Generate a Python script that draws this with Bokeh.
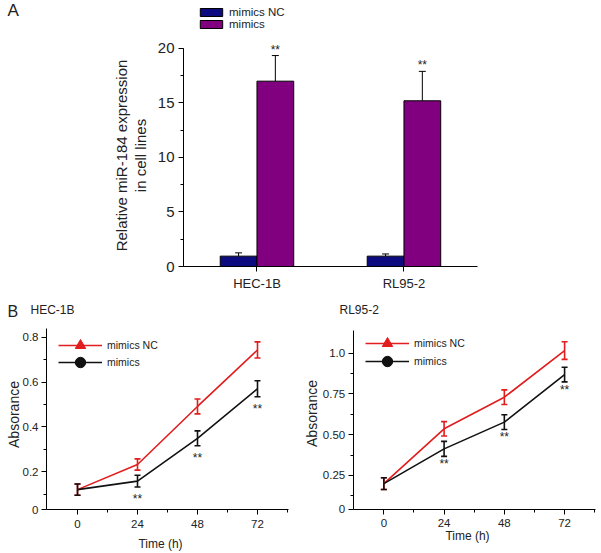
import math
from bokeh.plotting import figure
from bokeh.models import (ColumnDataSource, Range1d, Whisker, TeeHead, Legend,
                          LegendItem, Label, FixedTicker, SingleIntervalTicker)
from bokeh.transform import dodge
from bokeh.layouts import column, row
from bokeh.embed import file_html
from bokeh.resources import INLINE
from bokeh.core.properties import value

FONT = "Liberation Sans"

# ---------------- Panel A data ----------------
cells = ["HEC-1B", "RL95-2"]
nc_expr = [0.95, 0.95]
nc_expr_err = [0.3, 0.2]
mim_expr = [17.0, 15.2]
mim_expr_err = [2.35, 2.7]
sig_A = ["**", "**"]

# ---------------- Panel B data ----------------
hours = [0, 24, 48, 72]
hec_nc = [0.12, 0.232, 0.491, 0.743]
hec_nc_err = [0.025, 0.025, 0.033, 0.036]
hec_mim = [0.12, 0.158, 0.349, 0.570]
hec_mim_err = [0.025, 0.026, 0.033, 0.036]
rl_nc = [0.20, 0.536, 0.730, 1.016]
rl_nc_err = [0.036, 0.044, 0.045, 0.054]
rl_mim = [0.20, 0.413, 0.577, 0.869]
rl_mim_err = [0.036, 0.046, 0.045, 0.045]
sig_B = ["", "**", "**", "**"]

hec_y_ticks = [0.031, 0.2, 0.4, 0.6, 0.8]
hec_y_labels = ["0", "0.2", "0.4", "0.6", "0.8"]
hec_y_minor = [0.1, 0.3, 0.5, 0.7]
rl_y_ticks = [0.041, 0.25, 0.5, 0.75, 1.0]
rl_y_labels = ["0", "0.25", "0.50", "0.75", "1.0"]
rl_y_minor = [0.125, 0.375, 0.625, 0.875]
x_ticks = [0, 24, 48, 72]
x_minor = [12, 36, 60, 84]

NAVY = "#0c0c80"
PURPLE = "#800080"
RED = "#e11d1d"
BLACK = "#111111"
TXT = "#222222"


def new_fig(w, h, xr, yr):
    p = figure(width=w, height=h, x_range=Range1d(*xr), y_range=Range1d(*yr),
               output_backend="svg", toolbar_location=None,
               min_border=0, min_border_left=0, min_border_right=0,
               min_border_top=0, min_border_bottom=0)
    p.xgrid.visible = False
    p.ygrid.visible = False
    p.outline_line_color = None
    p.background_fill_color = "white"
    return p


def style_axis(ax, tick_size, standoff):
    ax.axis_line_color = "black"
    ax.axis_line_width = 1
    ax.major_tick_line_color = "black"
    ax.minor_tick_line_color = "black"
    ax.major_tick_in = 0
    ax.major_tick_out = 5
    ax.minor_tick_in = 0
    ax.minor_tick_out = 3
    ax.major_label_text_font = FONT
    ax.major_label_text_color = TXT
    ax.major_label_text_font_size = tick_size
    ax.major_label_standoff = standoff


class Placer:
    """Places texts by page pixel coordinates on a figure whose frame fills its canvas."""
    def __init__(self, p, ox, oy, h):
        self.p, self.ox, self.oy, self.h = p, ox, oy, h

    def text(self, px, py, text, size, angle=0.0, align="left", baseline="middle"):
        self.p.add_layout(Label(x=px - self.ox, y=self.oy + self.h - py,
                                x_units="screen", y_units="screen", text=text,
                                text_font=FONT, text_font_size=size, text_color=TXT,
                                angle=angle, text_align=align, text_baseline=baseline))

    def legend(self, renderers, label, px, py_bottom, glyph_w, glyph_h, font_size):
        self.p.add_layout(Legend(
            items=[LegendItem(label=label, renderers=renderers)],
            location=(px - self.ox, self.oy + self.h - py_bottom), padding=0, margin=0,
            spacing=0, glyph_width=glyph_w, glyph_height=glyph_h, label_height=10,
            label_standoff=5, label_text_font=FONT, label_text_font_size=font_size,
            label_text_color=TXT, border_line_alpha=0, background_fill_alpha=0))


# ================= Panel A =================
xc = [i + 0.5 for i in range(len(cells))]
srcA = ColumnDataSource(dict(
    xc=xc, nc=nc_expr, mim=mim_expr,
    nc_up=[v + e for v, e in zip(nc_expr, nc_expr_err)],
    mim_up=[v + e for v, e in zip(mim_expr, mim_expr_err)],
    sig=sig_A))

pA = new_fig(601, 295, (-1.245, 2.844), (-2.66, 24.40))
pA.xaxis.fixed_location = 0
pA.yaxis.fixed_location = 0
pA.xaxis.bounds = (0, len(cells))
pA.yaxis.bounds = (0, 20)
style_axis(pA.xaxis[0], "13px", 4)
style_axis(pA.yaxis[0], "15px", 4)
pA.xaxis.ticker = FixedTicker(ticks=xc, minor_ticks=[])
pA.xaxis.major_label_overrides = {x: c for x, c in zip(xc, cells)}
pA.yaxis.ticker = SingleIntervalTicker(interval=5, num_minor_ticks=2)

r_nc = pA.vbar(x=dodge("xc", -0.125), top="nc", width=0.25, source=srcA,
               fill_color=NAVY, line_color="black", line_width=1)
r_mim = pA.vbar(x=dodge("xc", 0.125), top="mim", width=0.25, source=srcA,
                fill_color=PURPLE, line_color="black", line_width=1)
for off, lo, hi in ((-0.125, "nc", "nc_up"), (0.125, "mim", "mim_up")):
    pA.add_layout(Whisker(source=srcA, base=dodge("xc", off), lower=lo, upper=hi,
                          lower_head=None,
                          upper_head=TeeHead(size=7, line_color="black", line_width=1),
                          line_color="black", line_width=1))
pA.text(x=dodge("xc", 0.125), y="mim_up", text="sig", source=srcA,
        text_font=value(FONT), text_font_size="12px", text_align="center",
        text_baseline="bottom", text_color=TXT, y_offset=1)

plA = Placer(pA, 0, 0, 295)
plA.text(7, 10, "A", "17px")
plA.text(121, 155, "Relative miR-184 expression", "15px", angle=math.pi / 2, align="center")
plA.text(140, 155, "in cell lines", "15px", angle=math.pi / 2, align="center")

plA.p.add_layout(Legend(
    items=[LegendItem(label="mimics NC", renderers=[r_nc]),
           LegendItem(label="mimics", renderers=[r_mim])],
    location=(197, 295 - 30), padding=0, margin=0, spacing=0,
    glyph_width=28, glyph_height=10, label_height=10, label_standoff=4,
    label_text_font=FONT, label_text_font_size="11.5px", label_text_color=TXT,
    border_line_alpha=0, background_fill_alpha=0))


# ================= Panel B =================
def make_line_panel(ox, width, x_rng, x_bounds, y_rng, y_bounds,
                    nc, nc_err, mim, mim_err, yt, yl, ym, title, title_px, star_off,
                    leg_x, leg_rows, ylab_px, xlab_px, b_label):
    oy, h = 295, 258
    p = new_fig(width, h, x_rng, y_rng)
    p.xaxis.fixed_location = y_bounds[0]
    p.yaxis.fixed_location = x_bounds[0]
    p.xaxis.bounds = x_bounds
    p.yaxis.bounds = y_bounds
    style_axis(p.xaxis[0], "11.5px", 5)
    style_axis(p.yaxis[0], "11.5px", 3)
    p.xaxis.ticker = FixedTicker(ticks=x_ticks, minor_ticks=x_minor)
    p.yaxis.ticker = FixedTicker(ticks=yt, minor_ticks=ym)
    p.yaxis.major_label_overrides = {t: s for t, s in zip(yt, yl)}

    src = ColumnDataSource(dict(
        h=hours, nc=nc, mim=mim,
        nc_lo=[v - e for v, e in zip(nc, nc_err)], nc_hi=[v + e for v, e in zip(nc, nc_err)],
        mim_lo=[v - e for v, e in zip(mim, mim_err)], mim_hi=[v + e for v, e in zip(mim, mim_err)],
        sig=sig_B))

    l_nc = p.line("h", "nc", source=src, line_color=RED, line_width=1.6)
    l_mim = p.line("h", "mim", source=src, line_color=BLACK, line_width=1.6)
    m_nc = p.scatter("h", "nc", source=src, marker="triangle", size=0,
                     fill_color=RED, line_color=RED)
    m_mim = p.scatter("h", "mim", source=src, marker="circle", size=0,
                      fill_color=BLACK, line_color=BLACK)
    for lo, hi, col in (("nc_lo", "nc_hi", RED), ("mim_lo", "mim_hi", BLACK)):
        p.add_layout(Whisker(source=src, base="h", lower=lo, upper=hi,
                             lower_head=TeeHead(size=6, line_color=col, line_width=1.6),
                             upper_head=TeeHead(size=6, line_color=col, line_width=1.6),
                             line_color=col, line_width=1.6))
    p.text(x="h", y="mim_lo", text="sig", source=src, text_font=value(FONT),
           text_font_size="12px", text_align="center", text_baseline="top",
           text_color=TXT, y_offset=star_off)

    pl = Placer(p, ox, oy, h)
    pl.text(ylab_px[0], ylab_px[1], "Absorance", "14px", angle=math.pi / 2, align="center")
    pl.text(xlab_px[0], xlab_px[1], "Time (h)", "12px", align="center")
    pl.text(title_px[0], title_px[1], title, "12px")
    if b_label:
        pl.text(7, 311, "B", "16px")

    # one legend per row, so the markers keep their size while rows stay close
    pl.legend([l_nc, m_nc], "mimics NC", leg_x, leg_rows[0] + 13, 44, 26, "10.5px")
    pl.legend([l_mim, m_mim], "mimics", leg_x, leg_rows[1] + 13, 44, 26, "10.5px")
    return p


pB1 = make_line_panel(0, 300, (-30.8, 89.2), (-12.4, 84.4), (-0.165, 0.986), (0.031, 0.837),
                      hec_nc, hec_nc_err, hec_mim, hec_mim_err,
                      hec_y_ticks, hec_y_labels, hec_y_minor, "HEC-1B", (30, 309), 5,
                      58, (345, 362), (13, 414), (160, 543), True)
pB2 = make_line_panel(300, 301, (-33.2, 86.7), (-12.2, 84.3), (-0.229, 1.354), (0.041, 1.14),
                      rl_nc, rl_nc_err, rl_mim, rl_mim_err,
                      rl_y_ticks, rl_y_labels, rl_y_minor, "RL95-2", (339, 309), 1,
                      365, (343, 361), (311, 413), (467, 535), False)

layout = column(pA, row(pB1, pB2, spacing=0), spacing=0)
open("out.html", "w").write(file_html(layout, INLINE))
